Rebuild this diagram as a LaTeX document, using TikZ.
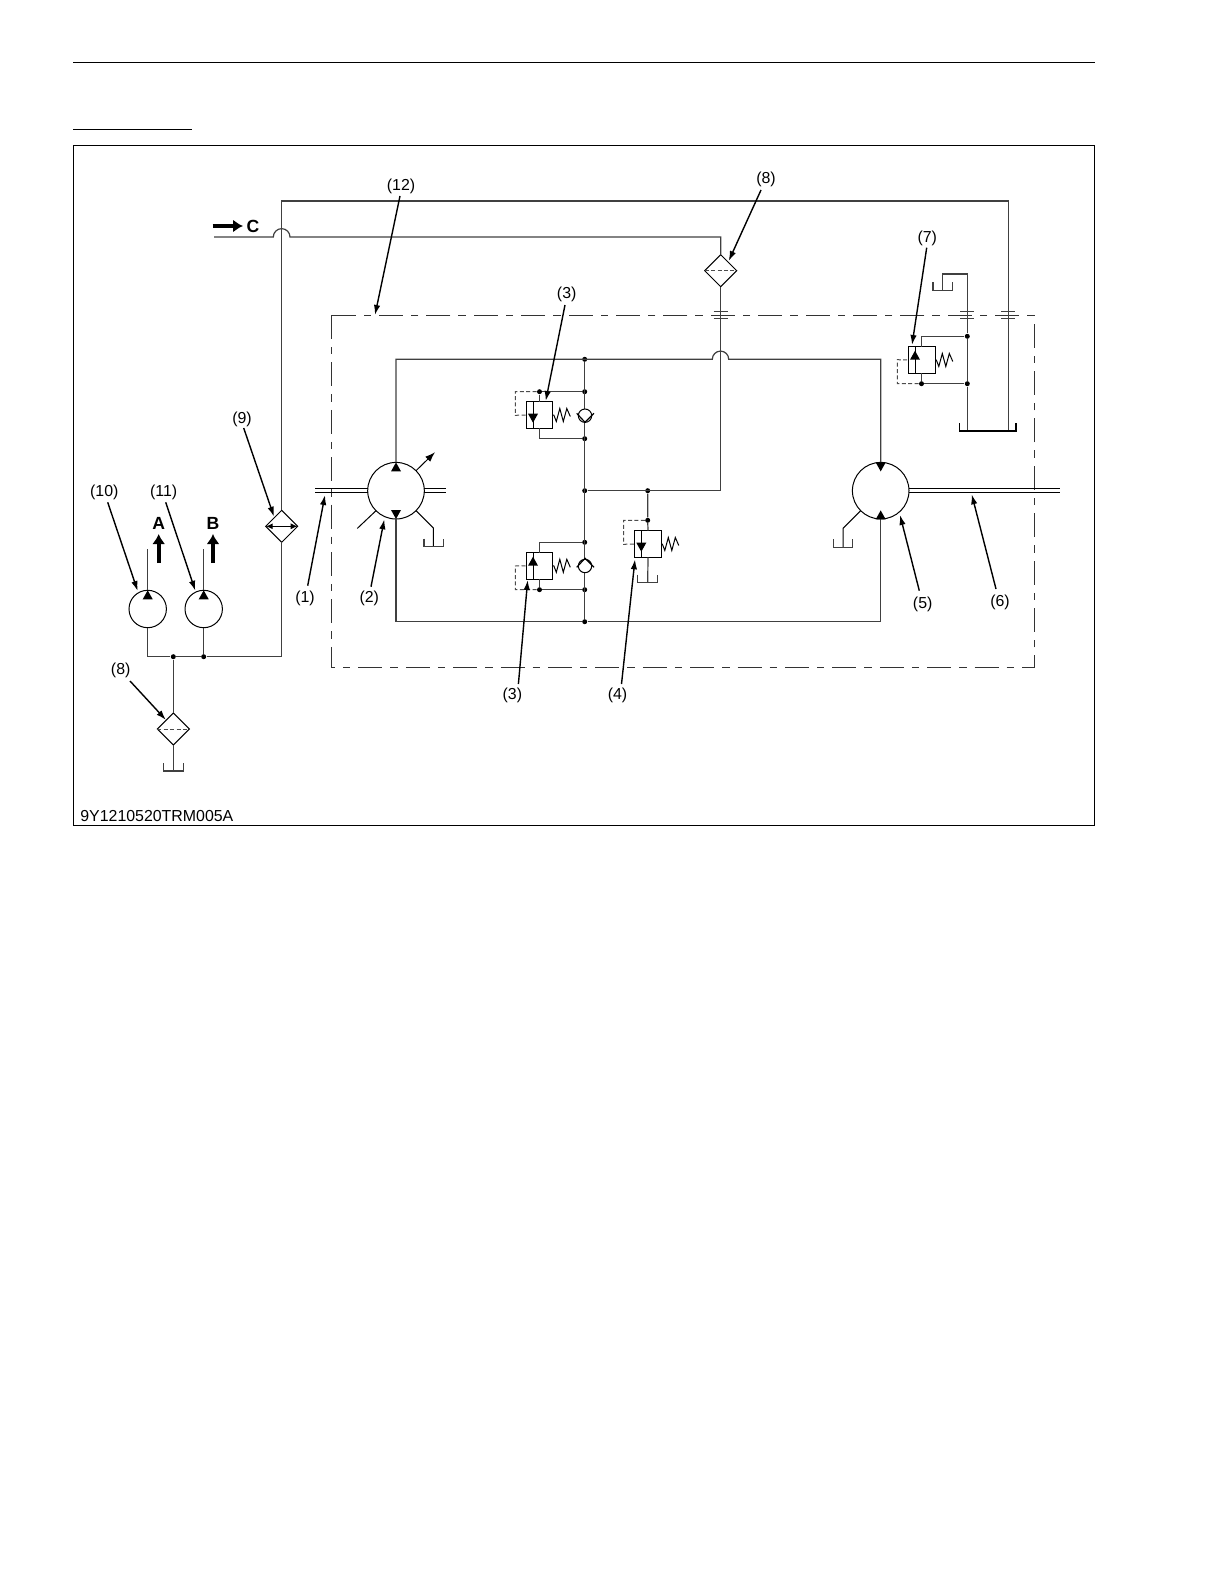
\documentclass[tikz,border=0pt]{standalone}
\usepackage{fontspec}
\setmainfont{Liberation Sans}
\usetikzlibrary{shapes.geometric,arrows.meta}
\tikzset{>=latex}
\tikzset{
  pipe/.style={line width=0.6pt,black!75},
  pilot/.style={line width=0.5pt,black!70,dash pattern=on 2pt off 1.2pt},
  callout/.style={line width=0.7pt,-{Latex[length=5pt,width=3.2pt]}},
  tag/.style={inner sep=0pt,yshift=-0.5pt,font=\fontsize{7.95}{9}\selectfont},
  bigtag/.style={inner sep=0pt,font=\fontsize{8.8}{10}\selectfont\bfseries},
  flow/.style={line width=2pt,-{Latex[length=5pt,width=6.5pt]}},
  dot/.style={circle,fill=black,inner sep=0pt,minimum size=2.5pt},
  rotary/.style={circle,draw,line width=0.5pt,inner sep=0pt,outer sep=0pt},
  filter/.style={diamond,draw,line width=0.5pt,aspect=1,inner sep=0pt,outer sep=0pt,minimum size=16pt},
  valve/.style={rectangle,draw,line width=0.6pt,inner sep=0pt,outer sep=0pt,minimum size=13.3pt},
}
% tank, apex of a port triangle, spring
\newcommand{\tank}[3]{\draw[pipe] (#1,#2) ++(-#3,-8) -- ++(0,8) -- ++(2*#3,0) -- ++(0,-8);}
\newcommand{\portup}[1]{\fill #1 ++(-5,9) -- ++(10,0) -- ++(-5,-9) -- cycle;}
\newcommand{\portdown}[1]{\fill #1 ++(-5,-9) -- ++(10,0) -- ++(-5,9) -- cycle;}
\newcommand{\spring}[1]{\draw[line width=0.5pt] #1 -- ++(1,0) -- ++(2.5,6.5) -- ++(3.5,-13) -- ++(3.5,13) -- ++(3.5,-13) -- ++(3.5,8);}
\newcommand{\ticks}[1]{\draw[pipe] #1 ++(-7,-3.6) -- ++(14,0) ++(-14,7) -- ++(14,0);}

\begin{document}
\begin{tikzpicture}[x=0.5pt,y=-0.5pt]
  \useasboundingbox (0,0) rectangle (1224,1584);

  % Page rules and frame
  \draw[line width=0.5pt] (73,62.7) -- (1094.6,62.7);
  \draw[line width=0.5pt] (73,130) -- (192,130);
  \draw[line width=0.5pt] (73,145.5) rectangle (1094.6,825);
  \node[tag, anchor=west] (code) at (80,815) {9Y1210520TRM005A};
  \draw[line width=0.45pt,black!80,dash pattern=on 12pt off 4pt on 3.7pt off 4pt] (331.5,315) rectangle (1034,667.3);

  % Pumps and motors
  \node[rotary, minimum size=18.7pt] (pump10) at (147.7,609) {};
  \node[rotary, minimum size=18.7pt] (pump11) at (203.7,609) {};
  \node[rotary, minimum size=28.3pt] (hstpump) at (396,490.7) {};
  \node[rotary, minimum size=28.3pt] (hstmotor) at (880.7,490.7) {};

  % Filters and cooler
  \node[filter] (filtertop) at (720.7,270.7) {};
  \node[filter] (filterlow) at (173.3,729) {};
  \node[filter] (cooler) at (281.7,526.3) {};
  \draw[pilot] (filtertop.west) -- (filtertop.east);
  \draw[pilot] (filterlow.west) -- (filterlow.east);
  \draw[line width=0.6pt,{Latex[length=3.5pt,width=3pt]}-{Latex[length=3.5pt,width=3pt]}] (cooler.west) -- (cooler.east);

  % Valves
  \node[valve] (relieftop) at (539.5,415) {};
  \node[valve] (relieflow) at (539.5,565.8) {};
  \node[valve] (reliefmid) at (648,544) {};
  \node[valve] (reliefchg) at (922,360) {};

  % Junctions
  \foreach \name/\px/\py in {ja/173.3/656.7,jb/203.7/656.7,
      m1/584.7/359.3,m2/584.7/391.7,m3/584.7/438.7,m4/584.7/490.7,m5/584.7/542.3,m6/584.7/589.7,m7/584.7/621.7,
      v1/539.5/391.7,v2/539.5/589.7,r1/647.7/490.7,r2/647.7/520.3,
      c1/967.3/336.3,c2/967.3/383.7,c3/921.5/383.7}
    \node[dot] (\name) at (\px,\py) {};

  % Edges
  \draw[pipe] (pump10.north) -- ++(0,-41);
  \draw[pipe] (pump11.north) -- ++(0,-41);
  \draw[pipe] (pump10.south) |- (ja) -- (jb) -- (281.7,656.7) -- (cooler.south);
  \draw[pipe] (pump11.south) -- (jb);
  \draw[pipe] (ja) -- (filterlow.north);
  \draw[pipe] (filterlow.south) -- (173.3,771);
  \draw[pipe] (cooler.north) -- (281.7,201) -- (1008.3,201) -- (1008.3,431);
  \draw[pipe] (214,237) -- (273.3,237) arc[start angle=180,end angle=360,radius=8.35] -- (720.7,237) -- (filtertop.north);
  \draw[pipe] (filtertop.south) -- (720.7,490.7) -- (m4);
  \draw[pipe] (hstpump.north) |- (712.3,359.3) arc[start angle=180,end angle=360,radius=8.2] -| (hstmotor.north);
  \draw[pipe] (hstpump.south) |- (m7) -| (hstmotor.south);
  \draw[pipe] (m1) -- (m7);
  \draw[pipe] (m4) -- (r1);

  % Shafts
  \foreach \off in {-2,2} {
    \draw[line width=0.6pt] (hstpump.west) ++(-52.7,\off) -- ++(52.7,0);
    \draw[line width=0.6pt] (hstpump.east) ++(0,\off) -- ++(21.5,0);
    \draw[line width=0.6pt] (hstmotor.east) ++(0,\off) -- ++(150.7,0);
  }

  % Pump and motor details
  \portup{(pump10.north)} \portup{(pump11.north)}
  \portup{(hstpump.north)} \portdown{(hstpump.south)}
  \portdown{(880.7,471.4)} \portup{(880.7,510.4)}
  \draw[line width=0.5pt,-{Latex[length=5pt,width=3.5pt]}] (hstpump.45) -- ++(19,-18.5);
  \draw[line width=0.5pt] (hstpump.225) -- ++(-18.7,17.7);
  \draw[line width=0.5pt] (hstpump.-45) -- ++(17.3,17.3) -- ++(0,18.4);
  \draw[line width=0.5pt] (hstmotor.225) -- ++(-17.7,17.7) -- ++(0,19);
  \tank{433.7}{546.7}{9.7}
  \tank{843}{547.3}{9.7}
  \tank{173.3}{771}{10}
  \tank{647.7}{582.7}{10}
  \tank{942.7}{290.3}{9.7}

  % Upper and lower relief valves with checks
  \draw[pipe] (v1) -- (m2);
  \draw[pipe] (v1) -- (relieftop.north);
  \draw[pipe] (relieftop.south) |- (m3);
  \draw[pilot] (v1) -| (515.3,415.3) -- (relieftop.west);
  \draw[line width=0.5pt] (533,401.7) -- (533,428.3);
  \portdown{(533,422.7)}
  \spring{(relieftop.east)}
  \draw[pipe] (relieflow.north) |- (m5);
  \draw[pipe] (relieflow.south) -- (v2) -- (m6);
  \draw[pilot] (v2) -| (515.3,566) -- (relieflow.west);
  \draw[line width=0.5pt] (533,552.7) -- (533,579);
  \portup{(533,556.7)}
  \spring{(relieflow.east)}
  \draw[line width=0.5pt,fill=white] (585,415.7) circle[radius=6.7];
  \draw[line width=0.6pt] (576.7,413.3) -- (585,422.3) -- (594,413.3);
  \draw[line width=0.5pt,fill=white] (585,566) circle[radius=6.7];
  \draw[line width=0.6pt] (576.7,567.3) -- (585,558.3) -- (594,567.3);

  % Middle relief valve
  \draw[pipe] (r1) -- (r2) -- (reliefmid.north);
  \draw[pipe] (reliefmid.south) -- (647.7,582.7);
  \draw[pilot] (r2) -| (623.7,544.3) -- (reliefmid.west);
  \draw[line width=0.5pt] (641.3,530.7) -- (641.3,557.3);
  \portdown{(641.3,551.7)}
  \spring{(reliefmid.east)}

  % Charge relief valve and return
  \draw[pipe] (942.7,290.3) |- (967.3,274) -- (c1) -- (c2) -- (967.3,431);
  \draw[line width=0.6pt] (959.3,423.3) |- (1016,431) -- (1016,423.3);
  \draw[pipe] (921.5,346.7) |- (c1);
  \draw[pipe] (921.5,373.3) -- (c3) -- (c2);
  \draw[pilot] (c3) -| (897.3,359.7) -- (reliefchg.west);
  \draw[line width=0.5pt] (915,346.7) -- (915,373.3);
  \portup{(915,350.7)}
  \spring{(reliefchg.east)}
  \foreach \px in {720.7,967.3,1008.3} {
    \ticks{(\px,315.3)}
  }

  % Flow arrows
  \draw[flow] (158.7,563) -- (158.7,534);
  \draw[flow] (213,563) -- (213,534);
  \draw[flow] (212.7,226) -- (243,226);
  \node[bigtag] (lblA) at (158.7,523.5) {A};
  \node[bigtag] (lblB) at (213,523) {B};
  \node[bigtag] (lblC) at (253,226) {C};

  % Labels and leaders
  \foreach \name/\txt/\px/\py/\qx/\qy/\tx/\ty in {
      l1/(1)/305/597.7/307.7/585.7/325/495,
      l2/(2)/369.3/597.7/371/586.7/384.3/519.3,
      l3a/(3)/566.7/293.3/565/305/545.7/401,
      l3b/(3)/512.4/694.3/518.4/684/527.7/580,
      l4/(4)/617.5/694.3/621.5/684/635/559.3,
      l5/(5)/922.7/603.3/919.3/590.7/900/515,
      l6/(6)/1000/601.3/996/589/971.7/494.3,
      l7/(7)/927.3/237.3/926.7/247.7/912/345,
      l8a/(8)/766/178.3/761/190/728.7/261,
      l8b/(8)/120.7/669/130/681/166/720,
      l9/(9)/242/418.3/243.7/428/274/516.7,
      l10/(10)/104.3/491.7/107.7/502.3/137.7/591,
      l11/(11)/163.7/491.7/165.7/502.3/195.3/590.7,
      l12/(12)/401/185.7/400/196/375/315} {
    \node[tag] (\name) at (\px,\py) {\txt};
    \coordinate (\name from) at (\qx,\qy);
    \coordinate (\name to) at (\tx,\ty);
    \draw[callout] (\name from) -- (\name to);
  }

\end{tikzpicture}
\end{document}
